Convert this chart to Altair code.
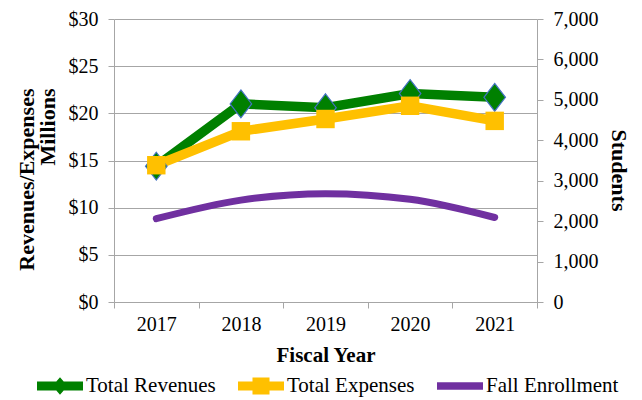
import altair as alt
import pandas as pd

years = ["2017", "2018", "2019", "2020", "2021"]
revenues = [14.4, 21.0, 20.6, 22.1, 21.7]
expenses = [14.5, 18.1, 19.4, 20.8, 19.2]
enrollment = [2060, 2520, 2680, 2540, 2090]
series = ["Total Revenues", "Total Expenses", "Fall Enrollment"]
money_ticks = [0, 5, 10, 15, 20, 25, 30]
student_ticks = [0, 1000, 2000, 3000, 4000, 5000, 6000, 7000]

colors = ["#008000", "#FFC000", "#7030A0"]
FONT = "Liberation Serif"
LEGEND_FONT = "'Liberation Serif', 'Times New Roman', serif"
GREY = "#A6A6A6"

money = pd.DataFrame({
    "year": years * 2,
    "series": [series[0]] * len(years) + [series[1]] * len(years),
    "value": revenues + expenses,
})
enr = pd.DataFrame({"year": years, "series": series[2], "students": enrollment})

xscale = alt.Scale(type="band", domain=years, paddingInner=0, paddingOuter=0)
xenc = alt.X(
    "year:N", scale=xscale, sort=years,
    axis=alt.Axis(title="Fiscal Year", labelAngle=0, tickBand="extent", grid=False,
                  domainColor=GREY, tickColor=GREY, tickSize=6, labelPadding=6,
                  labelFontSize=20, titleFontSize=21, titleFontWeight="bold",
                  titleBaseline="middle", titleY=53),
)
color_scale = alt.Scale(domain=series, range=colors)

leg_paths = [
    "M-1,-0.2L-0.16,-0.2L0,-0.38L0.16,-0.2L1,-0.2L1,0.2L0.16,0.2L0,0.38L-0.16,0.2L-1,0.2Z",
    "M-1,-0.2L-0.37,-0.2L-0.37,-0.37L0.37,-0.37L0.37,-0.2L1,-0.2L1,0.2L0.37,0.2L0.37,0.37L-0.37,0.37L-0.37,0.2L-1,0.2Z",
    "M-1,-0.16L1,-0.16L1,0.16L-1,0.16Z",
]

legend_props = dict(orient="none", legendX=-77, legendY=344,
                    direction="horizontal", columns=3,
                    symbolSize=2116, symbolStrokeWidth=0,
                    labelFontSize=21, labelFont=LEGEND_FONT, labelFontWeight="normal",
                    labelColor="black",
                    labelOffset=3, columnPadding=22, padding=0, labelLimit=300)

yleft = alt.Y(
    "value:Q", scale=alt.Scale(domain=[0, 30]),
    axis=alt.Axis(values=money_ticks, labelExpr="'$' + datum.value",
                  title=["Revenues/Expenses", "Millions"], titleFontWeight="bold",
                  titleFontSize=22, titleAngle=-90, titleAlign="right", titleBaseline="bottom",
                  titleLineHeight=21, titleX=-76, titleY=69,
                  grid=True, gridColor=GREY, domainColor=GREY, tickColor=GREY,
                  tickSize=6, labelPadding=10, labelFontSize=20),
)

legend_layer = alt.Chart(money).transform_filter("false").mark_point(filled=True, opacity=1).encode(
    x=xenc, y=yleft,
    color=alt.Color("series:N", scale=color_scale, title=None, legend=alt.Legend(**legend_props)),
    shape=alt.Shape("series:N", scale=alt.Scale(domain=series, range=leg_paths), title=None,
                    legend=alt.Legend(**legend_props)),
)

lines = alt.Chart(money).mark_line(strokeWidth=9.5).encode(
    x=xenc, y=yleft,
    color=alt.Color("series:N", scale=color_scale, legend=None),
)
rev_pts = alt.Chart(money).transform_filter(
    alt.datum.series == series[0]
).mark_point(
    shape="M0,-1.1L0.85,0L0,1.1L-0.85,0Z", filled=True, opacity=1,
    stroke="#4472C4", strokeWidth=1.2, size=640,
).encode(x=xenc, y=yleft, color=alt.Color("series:N", scale=color_scale, legend=None))
exp_pts = alt.Chart(money).transform_filter(
    alt.datum.series == series[1]
).mark_square(size=340, opacity=1).encode(
    x=xenc, y=yleft, color=alt.Color("series:N", scale=color_scale, legend=None)
)

left = alt.layer(legend_layer, lines, rev_pts, exp_pts)

enroll = alt.Chart(enr).mark_line(strokeWidth=7, strokeCap="round", interpolate="monotone").encode(
    x=xenc,
    y=alt.Y("students:Q", scale=alt.Scale(domain=[0, 7000]),
            axis=alt.Axis(orient="right", values=student_ticks, format=",d",
                          title="Students", titleFontWeight="bold", titleFontSize=22,
                          titleAngle=90, titleBaseline="middle", titleAlign="center",
                          titleX=81, titleY=151,
                          grid=False, domainColor=GREY, tickColor=GREY,
                          tickSize=6, labelPadding=10, labelFontSize=20)),
    color=alt.Color("series:N", scale=color_scale, legend=None),
)

chart = alt.layer(left, enroll).resolve_scale(y="independent").properties(
    width=423, height=283,
    autosize=alt.AutoSizeParams(type="none"),
    padding={"left": 106, "top": 11, "right": 97, "bottom": 98},
).configure(font=FONT).configure_view(stroke=None).configure_axis(
    labelFont=FONT, titleFont=FONT, labelColor="black", titleColor="black"
).configure_legend(labelFont=LEGEND_FONT, labelFontSize=21)

chart.save("out.html", embed_options={"renderer": "svg", "actions": False})
